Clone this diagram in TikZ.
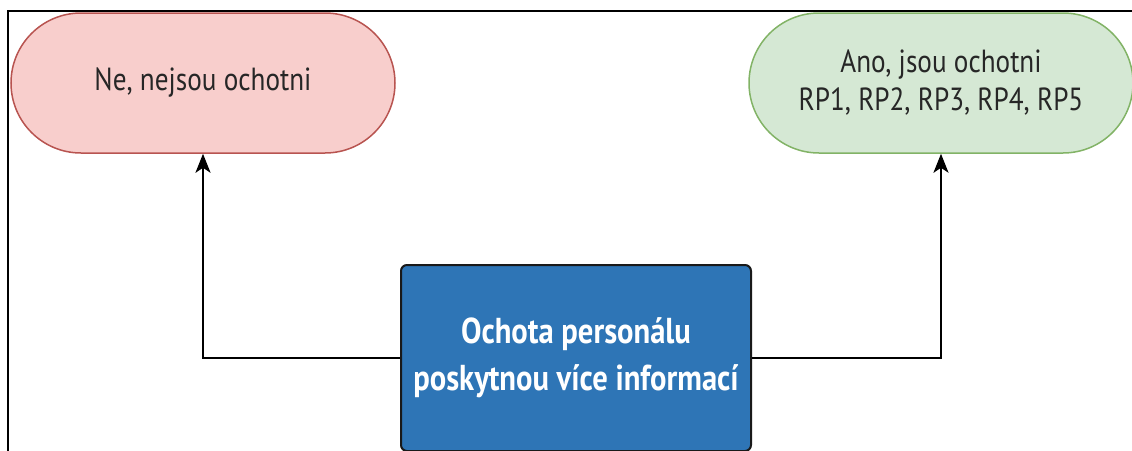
\documentclass[tikz,border=0pt]{standalone}
\usepackage{fontspec}
\setmainfont[FakeStretch=0.85]{PT Sans}
\usetikzlibrary{arrows.meta}
\definecolor{redfill}{RGB}{248,206,204}
\definecolor{redline}{RGB}{184,84,80}
\definecolor{greenfill}{RGB}{213,232,212}
\definecolor{greenline}{RGB}{130,179,102}
\definecolor{bluefill}{RGB}{46,117,182}
\tikzset{
  pill/.style={rounded corners=70pt, minimum width=384pt, minimum height=140pt, line width=1.5pt, align=center, font=\fontsize{32}{38}\selectfont, text=black!85},
  mainbox/.style={draw=black!90, fill=bluefill, rounded corners=6pt, minimum width=350pt, minimum height=186pt, line width=2pt, align=center, text=white, font=\bfseries\fontsize{36}{47}\selectfont},
  conn/.style={line width=2.2pt, -{Stealth[length=19pt,width=15pt,inset=5pt]}}
}
\begin{document}
\begin{tikzpicture}[x=1pt,y=-1pt]
\useasboundingbox (0,0) rectangle (1132,450);
\draw[line width=2.5pt] (8,451) -- (8,11) -- (1133,11);
\node[pill, draw=redline, fill=redfill] (no) at (203,83) {Ne, nejsou ochotni};
\node[pill, draw=greenline, fill=greenfill] (yes) at (941,83) {Ano, jsou ochotni\\RP1, RP2, RP3, RP4, RP5};
\node[mainbox] (q) at (576,358) {Ochota personálu\\poskytnou více informací};
\draw[conn] (q.west) -| (no.south);
\draw[conn] (q.east) -| (yes.south);
\end{tikzpicture}
\end{document}
